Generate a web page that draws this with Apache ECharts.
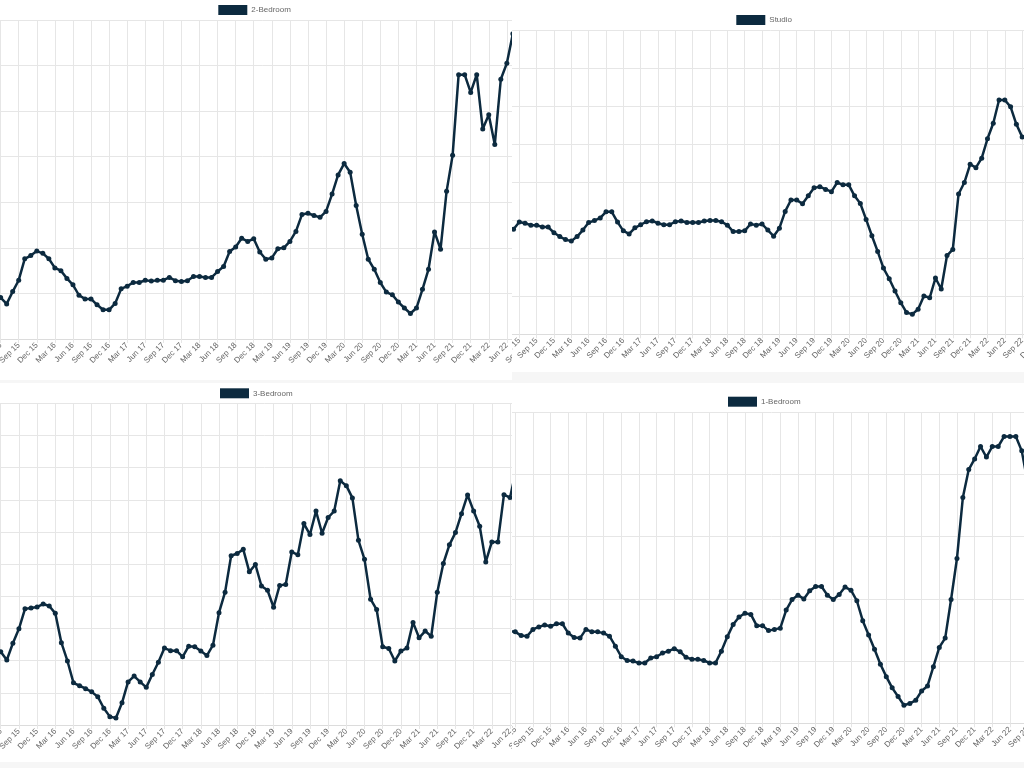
<!DOCTYPE html>
<html>
<head>
<meta charset="utf-8">
<script src="https://cdn.jsdelivr.net/npm/echarts@6/dist/echarts.min.js"></script>
<style>
  html, body { margin: 0; padding: 0; width: 1024px; height: 768px; background: #f6f6f6; overflow: hidden; }
  .panel { position: absolute; overflow: hidden; background: #ffffff; }
  .chart { position: absolute; left: -40px; top: 0; width: 592px; height: 100%; }
</style>
</head>
<body>
<div class="panel" style="left:0;top:0;width:512px;height:380px"><div class="chart" id="c_tl"></div></div>
<div class="panel" style="left:512px;top:0;width:512px;height:372px"><div class="chart" id="c_tr"></div></div>
<div class="panel" style="left:0;top:383px;width:512px;height:379px"><div class="chart" id="c_bl"></div></div>
<div class="panel" style="left:512px;top:383px;width:512px;height:379px"><div class="chart" id="c_br"></div></div>
<script>
const months = [
  'Mar 15','Apr 15','May 15','Jun 15','Jul 15','Aug 15','Sep 15','Oct 15','Nov 15','Dec 15',
  'Jan 16','Feb 16','Mar 16','Apr 16','May 16','Jun 16','Jul 16','Aug 16','Sep 16','Oct 16','Nov 16','Dec 16',
  'Jan 17','Feb 17','Mar 17','Apr 17','May 17','Jun 17','Jul 17','Aug 17','Sep 17','Oct 17','Nov 17','Dec 17',
  'Jan 18','Feb 18','Mar 18','Apr 18','May 18','Jun 18','Jul 18','Aug 18','Sep 18','Oct 18','Nov 18','Dec 18',
  'Jan 19','Feb 19','Mar 19','Apr 19','May 19','Jun 19','Jul 19','Aug 19','Sep 19','Oct 19','Nov 19','Dec 19',
  'Jan 20','Feb 20','Mar 20','Apr 20','May 20','Jun 20','Jul 20','Aug 20','Sep 20','Oct 20','Nov 20','Dec 20',
  'Jan 21','Feb 21','Mar 21','Apr 21','May 21','Jun 21','Jul 21','Aug 21','Sep 21','Oct 21','Nov 21','Dec 21',
  'Jan 22','Feb 22','Mar 22','Apr 22','May 22','Jun 22','Jul 22','Aug 22','Sep 22','Oct 22','Nov 22','Dec 22'
];

const twoBedroom = [null,null,null,
  91,77,104,129,176,183,193,188,176,156,
  150,133,119,96,88,88,75,64,64,78,
  110,116,124,124,129,127,129,129,135,128,
  126,128,137,137,135,135,148,159,192,202,
  221,214,220,191,175,178,198,200,214,236,
  273,276,271,267,280,318,360,385,366,293,
  230,175,153,124,103,97,81,68,56,68,
  109,153,235,197,324,403,580,580,541,580,
  461,492,427,570,605,670,
  null,null,null,null,null];

const studio = [null,null,
  276,
  295,292,287,287,282,282,267,257,249,245,
  257,274,294,299,306,322,322,295,272,264,
  280,288,296,298,292,288,288,296,298,294,
  294,294,298,299,299,296,287,270,270,272,
  290,287,290,274,258,279,323,353,353,343,
  364,385,388,381,375,399,393,393,364,344,
  302,259,218,174,146,114,83,57,53,66,
  101,96,148,119,207,223,369,399,447,438,
  463,514,555,616,616,598,552,519,
  null,null,null];

const threeBedroom = [null,null,null,
  228,202,254,299,361,364,367,376,370,347,
  256,199,131,122,113,103,88,52,26,22,
  69,134,152,134,117,157,195,239,231,231,
  212,245,243,230,216,248,349,413,526,533,
  546,476,499,432,419,366,434,437,538,529,
  626,592,665,596,645,665,759,744,706,574,
  515,391,359,243,238,199,230,239,319,271,
  292,276,413,502,560,598,657,715,665,618,
  507,569,569,716,707,792,
  null,null,null,null,null];

const oneBedroom = [null,null,
  148,
  147,141,140,151,155,158,156,160,160,145,
  138,137,151,147,147,145,140,124,107,101,
  100,97,97,105,107,113,116,120,115,106,
  103,103,101,97,97,116,139,159,171,177,
  175,157,157,149,151,153,182,199,206,200,
  213,220,220,206,199,207,219,214,197,165,
  142,119,95,75,57,43,29,32,37,52,
  60,91,122,137,199,265,363,408,425,445,
  428,445,445,461,461,461,438,387,
  null,null,null];

const LINE = '#0c2a3f';
const GRIDC = '#e6e6e6';
const isQuarter = function (idx, val) { return /^(Mar|Jun|Sep|Dec)/.test(val); };

function makeChart(id, name, data, grid, yMax, legendPos) {
  const chart = echarts.init(document.getElementById(id), null, { renderer: 'canvas' });
  chart.setOption({
    animation: false,
    textStyle: { fontFamily: 'Liberation Sans, Arial, sans-serif' },
    legend: {
      data: [name], left: legendPos[0], top: legendPos[1], padding: 0,
      icon: 'rect', itemWidth: 29, itemHeight: 10, itemGap: 4,
      textStyle: { fontSize: 8, color: '#666', padding: [0, 0, 0, -1] }
    },
    grid: grid,
    xAxis: {
      type: 'category', data: months, boundaryGap: false,
      axisLine: { show: true, lineStyle: { color: '#dcdcdc', width: 1 } },
      axisTick: { show: true, length: 4, interval: isQuarter, lineStyle: { color: GRIDC } },
      axisLabel: { interval: isQuarter, rotate: 45, fontSize: 8, color: '#666', margin: 5 },
      splitLine: { show: true, interval: isQuarter, lineStyle: { color: GRIDC, width: 1 } }
    },
    yAxis: {
      type: 'value', min: 0, max: yMax, interval: 100,
      axisLine: { show: false }, axisTick: { show: false },
      axisLabel: { show: false },
      splitLine: { show: true, lineStyle: { color: GRIDC, width: 1 } }
    },
    series: [{
      name: name, type: 'line', data: data,
      symbol: 'circle', symbolSize: 5, showAllSymbol: true,
      connectNulls: false,
      lineStyle: { color: LINE, width: 2.5 },
      itemStyle: { color: LINE }
    }]
  });
}

makeChart('c_tl', '2-Bedroom', twoBedroom, { left: 22.2, right: 9.0, top: 20, bottom: 41 }, 700, [258.3, 5]);
makeChart('c_tr', 'Studio', studio, { left: 29.96, right: 24.5, top: 30, bottom: 37.7 }, 800, [264.3, 15]);
makeChart('c_bl', '3-Bedroom', threeBedroom, { left: 21.9, right: 5.6, top: 20.3, bottom: 37 }, 1000, [260, 5.3]);
makeChart('c_br', '1-Bedroom', oneBedroom, { left: 25.6, right: 18.7, top: 29.3, bottom: 38.7 }, 500, [256, 13.7]);
</script>
</body>
</html>
